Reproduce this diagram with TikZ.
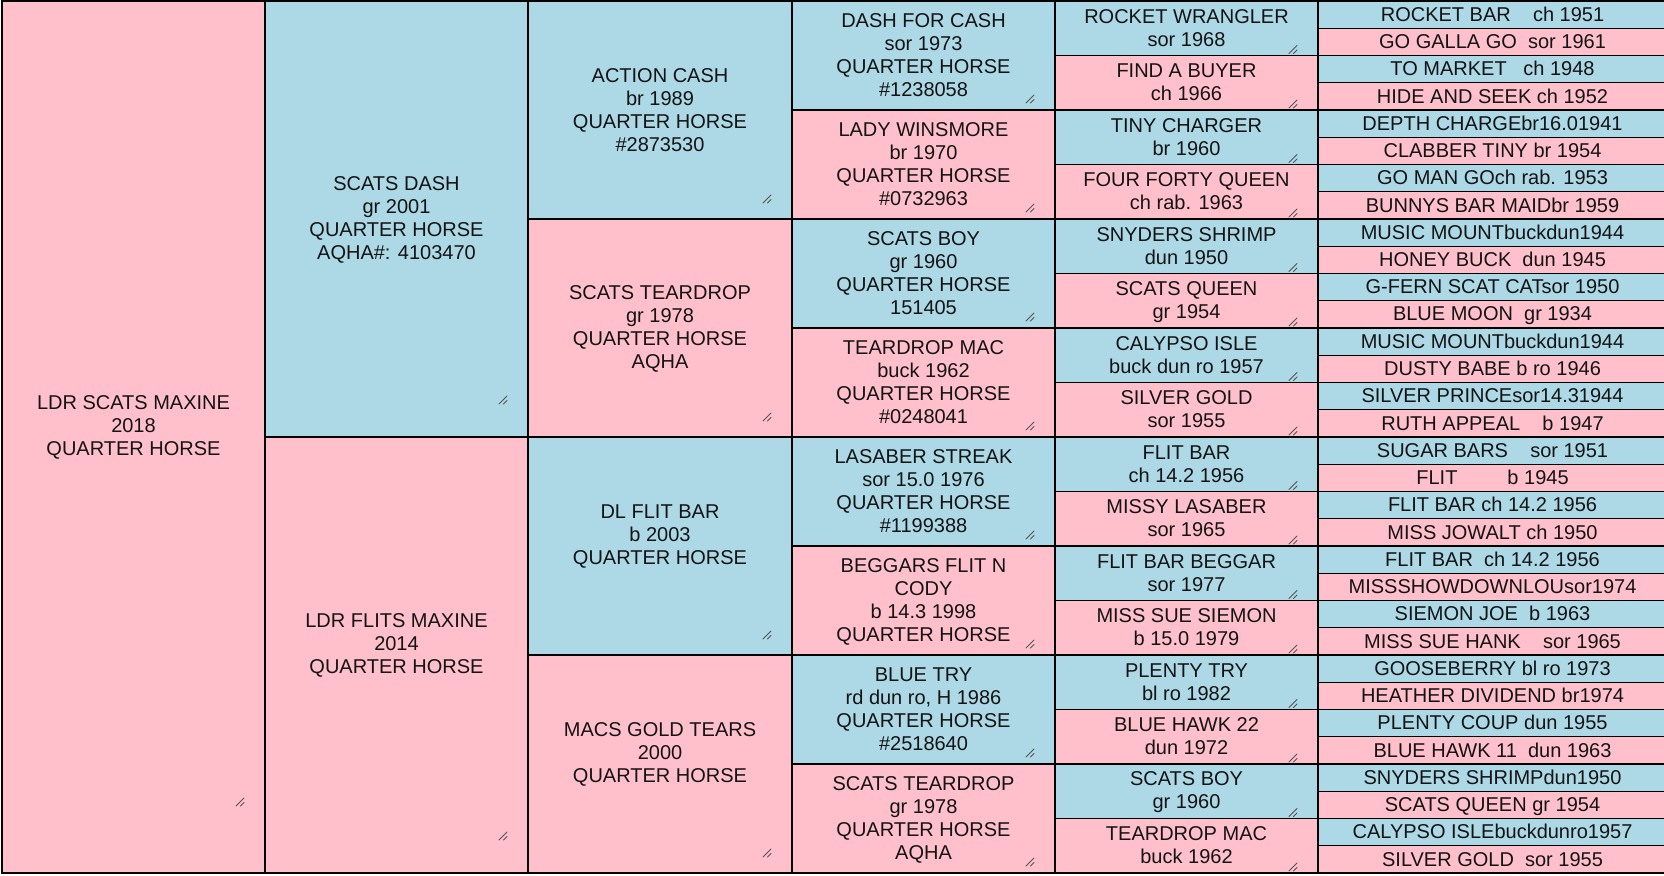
\documentclass[tikz,border=0pt]{standalone}
\usepackage{fontspec}
\setmainfont{Liberation Sans}
\definecolor{pinkc}{HTML}{FFC0CB}
\definecolor{bluec}{HTML}{ADD8E6}
\definecolor{textc}{HTML}{141414}
\definecolor{gripc}{HTML}{555555}
\newcommand\zs{\rule[-3.2pt]{0pt}{19.8pt}}
\newcommand\pcell[7]{%
  \pgfmathsetmacro\pcw{#3-#2}%
  \pgfmathsetmacro\pch{(#5-#4)*27.25}%
  \pgfmathsetmacro\pcx{(#2+#3)/2}%
  \pgfmathsetmacro\pcy{1+(#4+#5)*13.625}%
  \node[cell, fill=#6, minimum width=\pcw pt, minimum height=\pch pt] (#1) at (\pcx,\pcy) {#7};%
}
\newcommand\pgrip[2]{%
  \draw[gripline] ([shift={(-29,-#2+4)}]#1.south east) -- ++(8,-8);%
  \draw[gripline] ([shift={(-24.5,-#2+4)}]#1.south east) -- ++(3.5,-3.5);%
}
\begin{document}
\begin{tikzpicture}[x=1pt,y=-1pt,
  cell/.style={draw=black, line width=1.2pt, inner sep=0pt, outer sep=0pt, align=center, text=textc, font=\fontsize{20}{23}\selectfont},
  gripline/.style={draw=gripc, line width=1pt, line cap=round}]
\useasboundingbox (0,0) rectangle (1664,875);
\clip (0,0) rectangle (1664,875);
\fill[white] (0,0) rectangle (1664,875);
% column 1
\pcell{a1}{2}{265}{0}{32}{pinkc}{\zs LDR SCATS MAXINE\\\zs 2018\\\zs QUARTER HORSE\\\zs}
% column 2
\pcell{b1}{265}{528}{0}{16}{bluec}{\zs SCATS DASH\\\zs gr 2001\\\zs QUARTER HORSE\\\zs AQHA\#: 4103470}
\pcell{b2}{265}{528}{16}{32}{pinkc}{\zs LDR FLITS MAXINE\\\zs 2014\\\zs QUARTER HORSE\\\zs}
% column 3
\pcell{c1}{528}{792}{0}{8}{bluec}{\zs ACTION CASH\\\zs br 1989\\\zs QUARTER HORSE\\\zs \#2873530}
\pcell{c2}{528}{792}{8}{16}{pinkc}{\zs SCATS TEARDROP\\\zs gr 1978\\\zs QUARTER HORSE\\\zs AQHA}
\pcell{c3}{528}{792}{16}{24}{bluec}{\zs DL FLIT BAR\\\zs b 2003\\\zs QUARTER HORSE\\\zs}
\pcell{c4}{528}{792}{24}{32}{pinkc}{\zs MACS GOLD TEARS\\\zs 2000\\\zs QUARTER HORSE\\\zs}
% column 4
\pcell{d1}{792}{1055}{0}{4}{bluec}{\zs DASH FOR CASH\\\zs sor 1973\\\zs QUARTER HORSE\\\zs \#1238058}
\pcell{d2}{792}{1055}{4}{8}{pinkc}{\zs LADY WINSMORE\\\zs br 1970\\\zs QUARTER HORSE\\\zs \#0732963}
\pcell{d3}{792}{1055}{8}{12}{bluec}{\zs SCATS BOY\\\zs gr 1960\\\zs QUARTER HORSE\\\zs 151405}
\pcell{d4}{792}{1055}{12}{16}{pinkc}{\zs TEARDROP MAC\\\zs buck 1962\\\zs QUARTER HORSE\\\zs \#0248041}
\pcell{d5}{792}{1055}{16}{20}{bluec}{\zs LASABER STREAK\\\zs sor 15.0 1976\\\zs QUARTER HORSE\\\zs \#1199388}
\pcell{d6}{792}{1055}{20}{24}{pinkc}{\zs BEGGARS FLIT N\\\zs CODY\\\zs b 14.3 1998\\\zs QUARTER HORSE}
\pcell{d7}{792}{1055}{24}{28}{bluec}{\zs BLUE TRY\\\zs rd dun ro, H 1986\\\zs QUARTER HORSE\\\zs \#2518640}
\pcell{d8}{792}{1055}{28}{32}{pinkc}{\zs SCATS TEARDROP\\\zs gr 1978\\\zs QUARTER HORSE\\\zs AQHA}
% column 5
\pcell{e1}{1055}{1318}{0}{2}{bluec}{\zs ROCKET WRANGLER\\\zs sor 1968}
\pcell{e2}{1055}{1318}{2}{4}{pinkc}{\zs FIND A BUYER\\\zs ch 1966}
\pcell{e3}{1055}{1318}{4}{6}{bluec}{\zs TINY CHARGER\\\zs br 1960}
\pcell{e4}{1055}{1318}{6}{8}{pinkc}{\zs FOUR FORTY QUEEN\\\zs ch rab. 1963}
\pcell{e5}{1055}{1318}{8}{10}{bluec}{\zs SNYDERS SHRIMP\\\zs dun 1950}
\pcell{e6}{1055}{1318}{10}{12}{pinkc}{\zs SCATS QUEEN\\\zs gr 1954}
\pcell{e7}{1055}{1318}{12}{14}{bluec}{\zs CALYPSO ISLE\\\zs buck dun ro 1957}
\pcell{e8}{1055}{1318}{14}{16}{pinkc}{\zs SILVER GOLD\\\zs sor 1955}
\pcell{e9}{1055}{1318}{16}{18}{bluec}{\zs FLIT BAR\\\zs ch 14.2 1956}
\pcell{e10}{1055}{1318}{18}{20}{pinkc}{\zs MISSY LASABER\\\zs sor 1965}
\pcell{e11}{1055}{1318}{20}{22}{bluec}{\zs FLIT BAR BEGGAR\\\zs sor 1977}
\pcell{e12}{1055}{1318}{22}{24}{pinkc}{\zs MISS SUE SIEMON\\\zs b 15.0 1979}
\pcell{e13}{1055}{1318}{24}{26}{bluec}{\zs PLENTY TRY\\\zs bl ro 1982}
\pcell{e14}{1055}{1318}{26}{28}{pinkc}{\zs BLUE HAWK 22\\\zs dun 1972}
\pcell{e15}{1055}{1318}{28}{30}{bluec}{\zs SCATS BOY\\\zs gr 1960}
\pcell{e16}{1055}{1318}{30}{32}{pinkc}{\zs TEARDROP MAC\\\zs buck 1962}
% column 6
\pcell{f1}{1318}{1667}{0}{1}{bluec}{\zs ROCKET BAR~~~~ch 1951}
\pcell{f2}{1318}{1667}{1}{2}{pinkc}{\zs GO GALLA GO~~sor 1961}
\pcell{f3}{1318}{1667}{2}{3}{bluec}{\zs TO MARKET~~~ch 1948}
\pcell{f4}{1318}{1667}{3}{4}{pinkc}{\zs HIDE AND SEEK ch 1952}
\pcell{f5}{1318}{1667}{4}{5}{bluec}{\zs DEPTH CHARGEbr16.01941}
\pcell{f6}{1318}{1667}{5}{6}{pinkc}{\zs CLABBER TINY br 1954}
\pcell{f7}{1318}{1667}{6}{7}{bluec}{\zs GO MAN GOch rab. 1953}
\pcell{f8}{1318}{1667}{7}{8}{pinkc}{\zs BUNNYS BAR MAIDbr 1959}
\pcell{f9}{1318}{1667}{8}{9}{bluec}{\zs MUSIC MOUNTbuckdun1944}
\pcell{f10}{1318}{1667}{9}{10}{pinkc}{\zs HONEY BUCK~~dun 1945}
\pcell{f11}{1318}{1667}{10}{11}{bluec}{\zs G-FERN SCAT CATsor 1950}
\pcell{f12}{1318}{1667}{11}{12}{pinkc}{\zs BLUE MOON~~gr 1934}
\pcell{f13}{1318}{1667}{12}{13}{bluec}{\zs MUSIC MOUNTbuckdun1944}
\pcell{f14}{1318}{1667}{13}{14}{pinkc}{\zs DUSTY BABE b ro 1946}
\pcell{f15}{1318}{1667}{14}{15}{bluec}{\zs SILVER PRINCEsor14.31944}
\pcell{f16}{1318}{1667}{15}{16}{pinkc}{\zs RUTH APPEAL~~~~b 1947}
\pcell{f17}{1318}{1667}{16}{17}{bluec}{\zs SUGAR BARS~~~~sor 1951}
\pcell{f18}{1318}{1667}{17}{18}{pinkc}{\zs FLIT~~~~~~~~~b 1945}
\pcell{f19}{1318}{1667}{18}{19}{bluec}{\zs FLIT BAR ch 14.2 1956}
\pcell{f20}{1318}{1667}{19}{20}{pinkc}{\zs MISS JOWALT ch 1950}
\pcell{f21}{1318}{1667}{20}{21}{bluec}{\zs FLIT BAR~~ch 14.2 1956}
\pcell{f22}{1318}{1667}{21}{22}{pinkc}{\zs MISSSHOWDOWNLOUsor1974}
\pcell{f23}{1318}{1667}{22}{23}{bluec}{\zs SIEMON JOE~~b 1963}
\pcell{f24}{1318}{1667}{23}{24}{pinkc}{\zs MISS SUE HANK~~~~sor 1965}
\pcell{f25}{1318}{1667}{24}{25}{bluec}{\zs GOOSEBERRY bl ro 1973}
\pcell{f26}{1318}{1667}{25}{26}{pinkc}{\zs HEATHER DIVIDEND br1974}
\pcell{f27}{1318}{1667}{26}{27}{bluec}{\zs PLENTY COUP dun 1955}
\pcell{f28}{1318}{1667}{27}{28}{pinkc}{\zs BLUE HAWK 11~~dun 1963}
\pcell{f29}{1318}{1667}{28}{29}{bluec}{\zs SNYDERS SHRIMPdun1950}
\pcell{f30}{1318}{1667}{29}{30}{pinkc}{\zs SCATS QUEEN gr 1954}
\pcell{f31}{1318}{1667}{30}{31}{bluec}{\zs CALYPSO ISLEbuckdunro1957}
\pcell{f32}{1318}{1667}{31}{32}{pinkc}{\zs SILVER GOLD~~sor 1955}
% resize grips
\pgrip{a1}{71}
\pgrip{b1}{37}\pgrip{b2}{37}
\foreach \n in {c1,c2,c3,c4}{\pgrip{\n}{20}}
\foreach \n in {d1,d2,d3,d4,d5,d6,d7,d8}{\pgrip{\n}{11}}
\foreach \n in {e1,e2,e3,e4,e5,e6,e7,e8,e9,e10,e11,e12,e13,e14,e15,e16}{\pgrip{\n}{6}}
\end{tikzpicture}
\end{document}
